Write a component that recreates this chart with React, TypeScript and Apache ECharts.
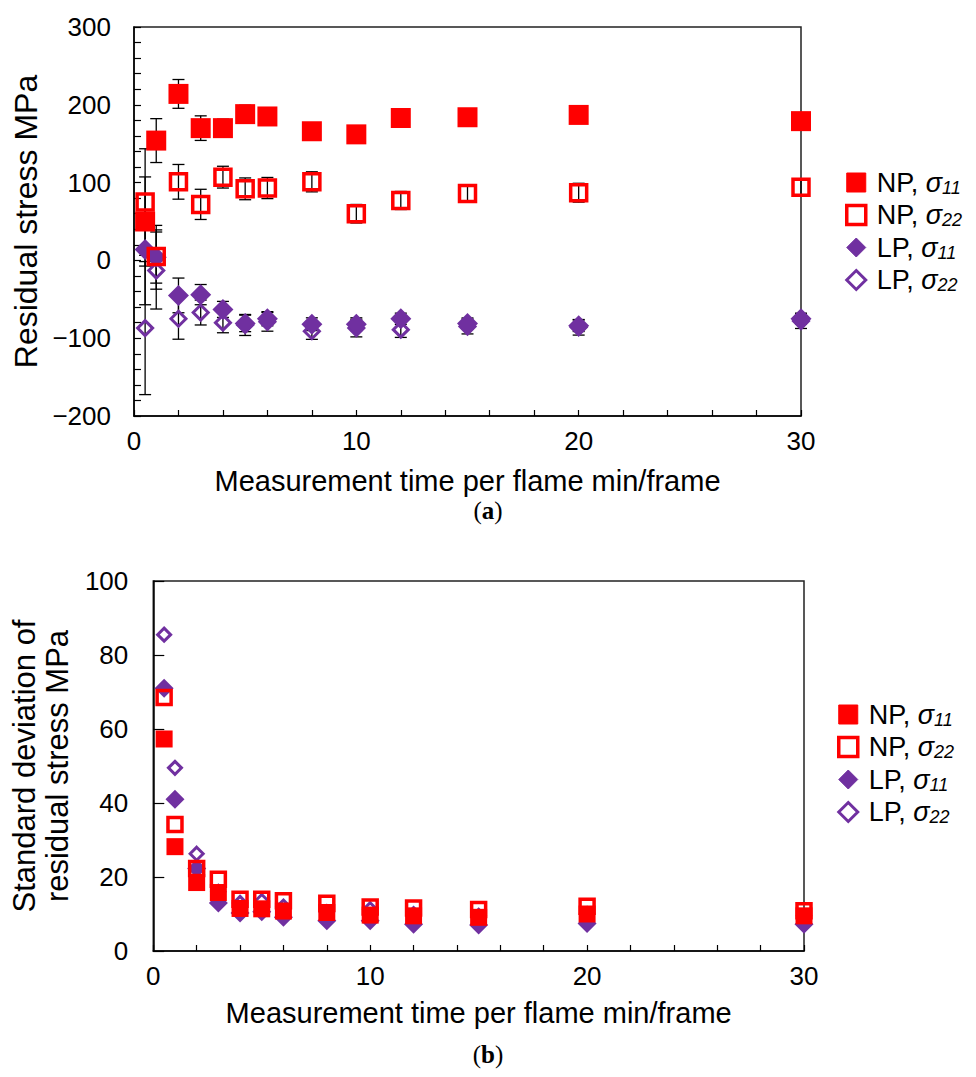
import React, { useEffect, useRef } from "react";
import * as echarts from "echarts";

const X = [0.5, 1, 2, 3, 4, 5, 6, 8, 10, 12, 15, 20, 30];

// (a) residual stress, MPa
const NP11 = [50, 154, 214, 170, 170, 188, 185, 166, 162, 183, 184, 187, 179];
const NP22 = [75, 5, 101, 72, 107, 92, 93, 101, 60, 77, 86, 87, 94];
const LP11 = [14, 4, -45, -44, -63, -81, -75, -82, -82, -75, -81, -84, -75];
const LP22 = [-87, -13, -75, -67, -80, -83, -79, -91, -87, -89, -85, -86, -78];

// (b) standard deviation of residual stress, MPa
const NP11_SD = [57.3, 28.2, 18.5, 15.8, 11.5, 11.4, 10.8, 10.4, 9.7, 9.5, 9.1, 10, 9.5];
const NP22_SD = [68.5, 34.2, 22.3, 19.4, 14, 14, 13.6, 12.9, 11.9, 11.6, 11.2, 12.1, 10.9];
const LP11_SD = [71, 41, 22.3, 13, 10.3, 10.6, 9.1, 8.2, 8.2, 7.2, 7, 7.4, 7.2];
const LP22_SD = [85.5, 49.5, 26.3, 16, 13, 13.5, 12, 10.5, 11.3, 10, 9.5, 10, 9.5];

const NAMES = ["NP, σ11", "NP, σ22", "LP, σ11", "LP, σ22"];
const Y_TITLE_A = "Residual stress MPa";
const Y_TITLE_B = "Standard deviation of\nresidual stress MPa";
const X_TITLE = "Measurement time per flame min/frame";

const RED = "#FF0000";
const PURPLE = "#7030A0";
const FONT = "Liberation Sans, Arial, sans-serif";
const SERIF = "Liberation Serif, serif";

const zip = (ys: number[]) => X.map((x, i) => [x, ys[i]]);
const fmt = (v: number) => (v < 0 ? "\u2212" + Math.abs(v) : String(v));

export default function App() {
  const ref = useRef<HTMLDivElement>(null);
  useEffect(() => {
    if (!ref.current) return;
    const chart = echarts.init(ref.current, undefined, { renderer: "svg" });

    const errData: number[][] = [];
    const pairs: [number[], number[]][] = [
      [NP11, NP11_SD],
      [NP22, NP22_SD],
      [LP11, LP11_SD],
      [LP22, LP22_SD],
    ];
    pairs.forEach(([m, s]) => {
      X.forEach((x, i) => errData.push([x, m[i] - s[i], m[i] + s[i]]));
    });

    const styles: Record<string, any> = {
      "NP, σ11": { symbol: "rect", big: 20, small: 17, itemStyle: { color: RED, opacity: 1 }, z: 4 },
      "NP, σ22": {
        symbol: "rect",
        big: 16,
        small: 14,
        itemStyle: { color: "rgba(255,255,255,0)", borderColor: RED, borderWidth: 3.5, opacity: 1 },
        z: 5,
      },
      "LP, σ11": { symbol: "diamond", big: 21, small: 19, itemStyle: { color: PURPLE, opacity: 1 }, z: 3 },
      "LP, σ22": {
        symbol: "diamond",
        big: 15,
        small: 13,
        itemStyle: { color: "rgba(255,255,255,0)", borderColor: PURPLE, borderWidth: 3, opacity: 1 },
        z: 2,
      },
    };
    const dataA: Record<string, number[]> = {
      "NP, σ11": NP11,
      "NP, σ22": NP22,
      "LP, σ11": LP11,
      "LP, σ22": LP22,
    };
    const dataB: Record<string, number[]> = {
      "NP, σ11": NP11_SD,
      "NP, σ22": NP22_SD,
      "LP, σ11": LP11_SD,
      "LP, σ22": LP22_SD,
    };

    const scatter: any[] = [];
    NAMES.forEach((n) => {
      const st = styles[n];
      scatter.push({
        type: "scatter",
        name: n,
        xAxisIndex: 0,
        yAxisIndex: 0,
        symbol: st.symbol,
        symbolSize: st.big,
        itemStyle: st.itemStyle,
        z: st.z,
        data: zip(dataA[n]),
      });
      scatter.push({
        type: "scatter",
        name: n,
        xAxisIndex: 1,
        yAxisIndex: 1,
        symbol: st.symbol,
        symbolSize: st.small,
        itemStyle: st.itemStyle,
        z: st.z,
        data: zip(dataB[n]),
      });
    });

    const legendData = NAMES.map((n) => {
      const filled = n.endsWith("11");
      const col = n.startsWith("NP") ? RED : PURPLE;
      return {
        name: n,
        itemStyle: filled
          ? { borderColor: col, borderWidth: 1, opacity: 1 }
          : { borderColor: col, borderWidth: n.startsWith("NP") ? 3.5 : 3, opacity: 1 },
      };
    });

    const legendFmt = (name: string) => {
      const m = name.match(/^(\w+), σ(\d+)$/);
      if (!m) return name;
      return `{t|${m[1]}, }{g|σ}{s|${m[2]}}`;
    };
    const rich = {
      t: { fontSize: 27, fontFamily: FONT, color: "#000", lineHeight: 28, padding: [0, 0, 0, 6] },
      g: { fontSize: 27, fontFamily: FONT, fontStyle: "italic", color: "#000", lineHeight: 28 },
      s: {
        fontSize: 18,
        fontFamily: FONT,
        fontStyle: "italic",
        color: "#000",
        lineHeight: 16,
        verticalAlign: "bottom",
      },
    };
    const legendBase = {
      orient: "vertical",
      itemWidth: 19,
      itemHeight: 19,
      itemGap: 5,
      data: legendData,
      formatter: legendFmt,
      textStyle: { rich },
      selectedMode: false,
    };

    const xAxisBase = (gridIndex: number, nameGap: number, labelMargin: number) => ({
      type: "value",
      gridIndex,
      min: 0,
      max: 30,
      interval: 2,
      name: X_TITLE,
      nameLocation: "middle",
      nameGap,
      nameTextStyle: { fontSize: 29, fontFamily: FONT, color: "#000" },
      axisLine: { show: true, onZero: false, lineStyle: { color: "#000", width: 1.5 } },
      axisTick: { show: true, inside: true, length: 6, lineStyle: { color: "#000", width: 1.2 } },
      axisLabel: {
        fontSize: 26,
        fontFamily: FONT,
        color: "#000",
        margin: labelMargin,
        formatter: (v: number) => (v % 10 === 0 ? String(v) : ""),
      },
      splitLine: { show: false },
    });

    const caption = (letter: string, y: number) => ({
      type: "text",
      x: 488,
      y,
      style: {
        text: `{p|(}{b|${letter}}{p|)}`,
        align: "center",
        verticalAlign: "middle",
        rich: {
          p: { fontSize: 25, fontFamily: SERIF, fill: "#000" },
          b: { fontSize: 25, fontFamily: SERIF, fontWeight: "bold", fill: "#000" },
        },
      },
    });

    const option: any = {
      animation: false,
      backgroundColor: "#fff",
      textStyle: { fontFamily: FONT },
      grid: [
        {
          left: 134,
          top: 27,
          width: 667,
          height: 389,
          show: true,
          borderColor: "#222",
          borderWidth: 1.5,
          backgroundColor: "transparent",
        },
        {
          left: 149,
          top: 581,
          width: 655,
          height: 370,
          show: true,
          borderColor: "#222",
          borderWidth: 1.5,
          backgroundColor: "transparent",
        },
      ],
      legend: [
        { ...legendBase, left: 840, top: 164 },
        { ...legendBase, left: 832, top: 696 },
      ],
      xAxis: [xAxisBase(0, 50, 12), xAxisBase(1, 47, 12)],
      yAxis: [
        {
          type: "value",
          gridIndex: 0,
          min: -200,
          max: 300,
          interval: 20,
          name: Y_TITLE_A,
          nameLocation: "middle",
          nameGap: 75,
          nameTextStyle: { fontSize: 32, fontFamily: FONT, color: "#000" },
          axisLine: { show: true, lineStyle: { color: "#000", width: 1.5 } },
          axisTick: { show: true, inside: true, length: 7, lineStyle: { color: "#000", width: 1.2 } },
          axisLabel: {
            fontSize: 26,
            fontFamily: FONT,
            color: "#000",
            margin: 23,
            formatter: (v: number) => (v % 100 === 0 ? fmt(v) : ""),
          },
          splitLine: { show: false },
        },
        {
          type: "value",
          gridIndex: 1,
          min: 0,
          max: 100,
          interval: 20,
          name: Y_TITLE_B,
          nameLocation: "middle",
          nameGap: 73,
          nameTextStyle: { fontSize: 31, fontFamily: FONT, color: "#000", lineHeight: 33 },
          axisLine: { show: true, lineStyle: { color: "#000", width: 1.5 } },
          axisTick: { show: true, inside: true, length: 11, lineStyle: { color: "#000", width: 1.2 } },
          axisLabel: { fontSize: 26, fontFamily: FONT, color: "#000", margin: 25 },
          splitLine: { show: false },
        },
      ],
      graphic: [caption("a", 510), caption("b", 1054)],
      series: [
        {
          type: "custom",
          name: "errorbars",
          xAxisIndex: 0,
          yAxisIndex: 0,
          z: 1,
          silent: true,
          encode: { x: 0, y: [1, 2] },
          data: errData,
          renderItem: (params: any, api: any) => {
            const x = api.value(0);
            const lo = api.value(1);
            const hi = api.value(2);
            const p1 = api.coord([x, hi]);
            const p2 = api.coord([x, lo]);
            const w = 6;
            const st = { stroke: "#000", lineWidth: 1.3 };
            return {
              type: "group",
              children: [
                { type: "line", shape: { x1: p1[0], y1: p1[1], x2: p2[0], y2: p2[1] }, style: st },
                { type: "line", shape: { x1: p1[0] - w, y1: p1[1], x2: p1[0] + w, y2: p1[1] }, style: st },
                { type: "line", shape: { x1: p2[0] - w, y1: p2[1], x2: p2[0] + w, y2: p2[1] }, style: st },
              ],
            };
          },
        },
        ...scatter,
      ],
    };
    chart.setOption(option);
    return () => chart.dispose();
  }, []);
  return (
    <div
      ref={ref}
      style={{ position: "absolute", left: 0, top: 0, width: 976, height: 1077, background: "#fff" }}
    />
  );
}
